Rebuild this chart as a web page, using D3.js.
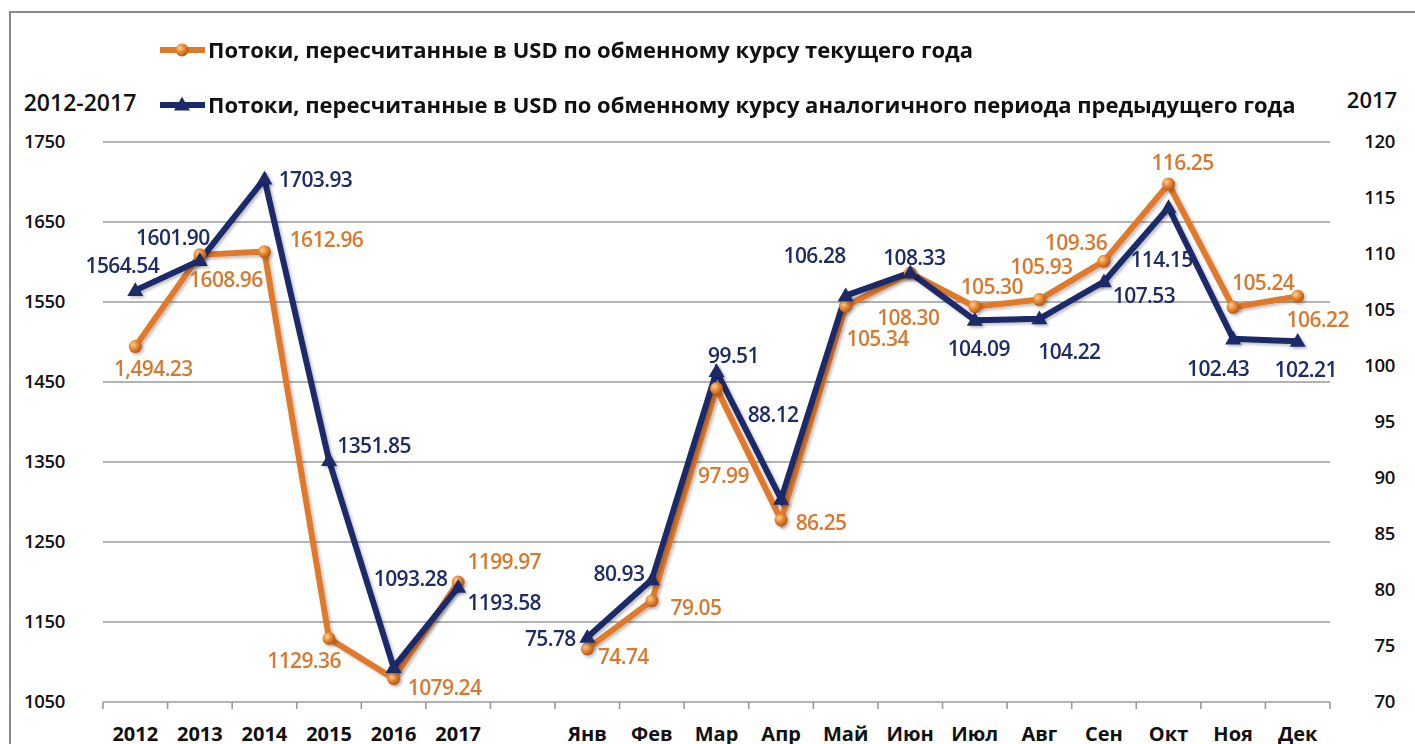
<!DOCTYPE html>
<html><head><meta charset="utf-8">
<script src="https://cdn.jsdelivr.net/npm/d3@7"></script>
<style>
html,body{margin:0;padding:0;background:#fff;overflow:hidden}
svg{display:block;font-family:"Open Sans","Noto Sans",sans-serif}
</style></head><body>
<svg id="chart" width="1415" height="744"></svg>
<script>
// ---- data ----
const years = ["2012","2013","2014","2015","2016","2017"];
const months = ["Янв","Фев","Мар","Апр","Май","Июн","Июл","Авг","Сен","Окт","Ноя","Дек"];
const yearsCurrent  = [1494.23,1608.96,1612.96,1129.36,1079.24,1199.97];
const yearsPrevious = [1564.54,1601.90,1703.93,1351.85,1093.28,1193.58];
const monthsCurrent  = [74.74,79.05,97.99,86.25,105.34,108.30,105.30,105.93,109.36,116.25,105.24,106.22];
const monthsPrevious = [75.78,80.93,99.51,88.12,106.28,108.33,104.09,104.22,107.53,114.15,102.43,102.21];
const leftTicks = [1050,1150,1250,1350,1450,1550,1650,1750];
const rightTicks = [70,75,80,85,90,95,100,105,110,115,120];
const legendLabels = [
  "Потоки, пересчитанные в USD по обменному курсу текущего года",
  "Потоки, пересчитанные в USD по обменному курсу аналогичного периода предыдущего года"
];
const leftTitle = "2012-2017", rightTitle = "2017";

// label offsets (layout only): [dx, dy] relative to point
const offCurYears = [[18,22],[26,25],[62,-12],[-25,22],[51,9],[46,-20]];
const offPrevYears = [[-13,-25],[-27,-23],[51,1],[45,-15],[17,-89],[46,16]];
const offCurMonths = [[36,8],[44,7],[7,87],[40,3],[32,32],[-2,45],[17,-20],[2,-33],[-28,-19],[14,-21],[30,-25],[20,23]];
const offPrevMonths = [[-37,1],[-33,-6],[17,-16],[-8,-84],[-31,-40],[4,-15],[4,28],[30,33],[40,14],[-7,52],[-15,30],[8,28]];

const ORANGE = "#E07A2B", ORANGE_T = "#D9782F", NAVY = "#1B2A6A", NAVY_T = "#1D2C67";

const svg = d3.select("#chart");
const defs = svg.append("defs");
const grad = defs.append("radialGradient").attr("id","ball").attr("cx","35%").attr("cy","35%").attr("r","65%");
grad.append("stop").attr("offset","0%").attr("stop-color","#FFD39A");
grad.append("stop").attr("offset","45%").attr("stop-color","#EE8E3A");
grad.append("stop").attr("offset","100%").attr("stop-color","#B85A14");
const sh = defs.append("filter").attr("id","shadow").attr("x","-10%").attr("y","-10%").attr("width","130%").attr("height","130%");
sh.append("feDropShadow").attr("dx",2).attr("dy",2).attr("stdDeviation",1.5).attr("flood-color","#000").attr("flood-opacity",0.25);

// frame
svg.append("rect").attr("x",10).attr("y",12).attr("width",1430).attr("height",780)
  .attr("fill","none").attr("stroke","#8a8a8a").attr("stroke-width",2);

const categories = years.concat([""], months);
const x = d3.scaleBand().domain(categories).range([103,1330]).padding(0);
const yL = d3.scaleLinear().domain([1050,1750]).range([702,142]);
const yR = d3.scaleLinear().domain([70,120]).range([702,142]);
const cx = c => x(c) + x.bandwidth()/2;

// gridlines
svg.append("g").selectAll("line").data(leftTicks).join("line")
  .attr("x1",103).attr("x2",1330).attr("y1",d=>yL(d)).attr("y2",d=>yL(d))
  .attr("stroke","#9a9a9a").attr("stroke-width",1.6);

// bottom ticks at band boundaries
const bounds = categories.map(c=>x(c)).concat([x.range()[1]]);
svg.append("g").selectAll("line").data(bounds).join("line")
  .attr("x1",d=>d).attr("x2",d=>d).attr("y1",702).attr("y2",709)
  .attr("stroke","#9a9a9a").attr("stroke-width",1.6);

// left axis labels
svg.append("g").selectAll("text").data(leftTicks).join("text")
  .attr("x",65).attr("y",d=>yL(d)).attr("dy","0.35em").attr("text-anchor","end")
  .attr("font-size",18.5).attr("font-weight",600).attr("fill","#111").attr("letter-spacing","-0.3").text(d=>d);
// right axis labels
svg.append("g").selectAll("text").data(rightTicks).join("text")
  .attr("x",1395).attr("y",d=>yR(d)).attr("dy","0.35em").attr("text-anchor","end")
  .attr("font-size",18.5).attr("font-weight",600).attr("fill","#111").attr("letter-spacing","-0.3").text(d=>d);
svg.append("text").attr("x",80).attr("y",103).attr("dy","0.35em").attr("text-anchor","middle")
  .attr("font-size",23).attr("font-weight",600).attr("fill","#111").text(leftTitle);
svg.append("text").attr("x",1372).attr("y",100).attr("dy","0.35em").attr("text-anchor","middle")
  .attr("font-size",22).attr("font-weight",600).attr("fill","#111").text(rightTitle);

// x labels
svg.append("g").selectAll("text").data(categories.filter(c=>c!=="")).join("text")
  .attr("x",d=>cx(d)).attr("y",741).attr("text-anchor","middle")
  .attr("font-size",20).attr("font-weight",700).attr("fill","#111").text(d=>d);

// series
function seriesPts(yv, mv, offY, offM){
  const pts = [];
  years.forEach((c,i)=>pts.push({c, v:yv[i], px:cx(c), py:yL(yv[i]), off:offY[i], seg:0, i}));
  months.forEach((c,i)=>pts.push({c, v:mv[i], px:cx(c), py:yR(mv[i]), off:offM[i], seg:1, i}));
  return pts;
}
const cur = seriesPts(yearsCurrent, monthsCurrent, offCurYears, offCurMonths);
const prev = seriesPts(yearsPrevious, monthsPrevious, offPrevYears, offPrevMonths);
const line = d3.line().x(d=>d.px).y(d=>d.py);

function drawLine(pts, color){
  const g = svg.append("g").attr("filter","url(#shadow)");
  [0,1].forEach(s=>{
    g.append("path").datum(pts.filter(p=>p.seg===s)).attr("d",line)
      .attr("fill","none").attr("stroke",color).attr("stroke-width",6)
      .attr("stroke-linejoin","miter").attr("stroke-linecap","butt");
  });
}
drawLine(cur, ORANGE);
drawLine(prev, NAVY);

svg.append("g").attr("filter","url(#shadow)").selectAll("circle").data(cur).join("circle")
  .attr("cx",d=>d.px).attr("cy",d=>d.py).attr("r",6.5).attr("fill","url(#ball)");
const tri = d3.symbol().type(d3.symbolTriangle).size(110);
svg.append("g").attr("filter","url(#shadow)").selectAll("path").data(prev).join("path")
  .attr("transform",d=>`translate(${d.px},${d.py+1})`).attr("d",tri).attr("fill",NAVY);

// labels
const fmt = d3.format(".2f"), fmtC = d3.format(",.2f");
function labels(pts, color, firstComma){
  svg.append("g").selectAll("text").data(pts).join("text")
    .attr("x",d=>d.px+d.off[0]).attr("y",d=>d.py+d.off[1]).attr("dy","0.35em")
    .attr("text-anchor","middle").attr("font-size",21).attr("font-weight",600)
    .attr("fill",color).attr("letter-spacing","-0.6")
    .text(d=> (firstComma && d.seg===0 && d.i===0) ? fmtC(d.v) : fmt(d.v));
}
labels(cur, ORANGE_T, true);
labels(prev, NAVY_T, false);

// legend
const leg = svg.append("g");
[[50, ORANGE, "ball"],[105, NAVY, "tri"]].forEach((l,k)=>{
  leg.append("line").attr("x1",160).attr("x2",205).attr("y1",l[0]).attr("y2",l[0])
    .attr("stroke",l[1]).attr("stroke-width",6);
  if(l[2]==="ball") leg.append("circle").attr("cx",182).attr("cy",l[0]).attr("r",6.5).attr("fill","url(#ball)");
  else leg.append("path").attr("transform",`translate(182,${l[0]+1})`).attr("d",tri).attr("fill",NAVY);
  leg.append("text").attr("x",208).attr("y",l[0]).attr("dy","0.35em")
    .attr("font-size",22).attr("font-weight",700).attr("fill","#111").text(legendLabels[k]);
});
</script>
</body></html>
